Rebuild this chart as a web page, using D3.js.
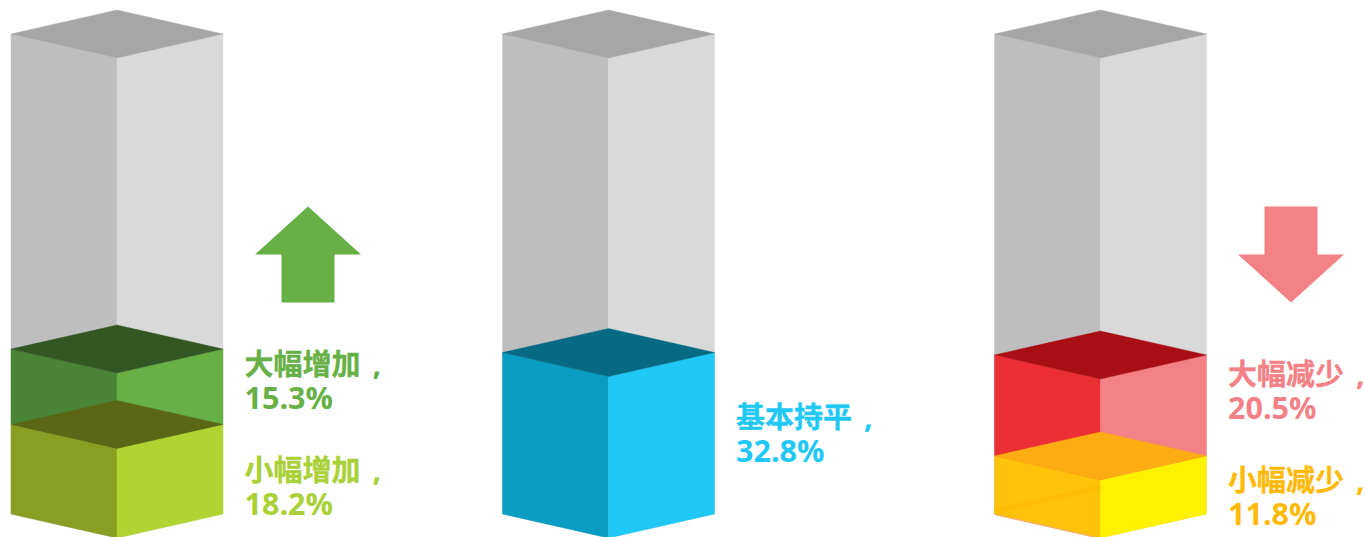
<!DOCTYPE html>
<html lang="zh">
<head>
<meta charset="utf-8">
<script src="https://d3js.org/d3.v7.min.js"></script>
<style>
html,body{margin:0;padding:0;background:#fff;overflow:hidden}
text{font-family:"Open Sans","Noto Sans CJK SC",sans-serif;font-weight:700;font-size:30.5px}
.cjk{font-family:"Noto Sans CJK SC",sans-serif;font-size:29px;stroke-width:.35px}
</style>
</head>
<body>
<svg id="chart" width="1365" height="537"></svg>
<script>
// Values are percentages of respondents, stacked from the base of each column.
const columnNames = ["增加", "持平", "减少"];
const columnLeftEdges = [11, 502.5, 994.5];
const segmentColumn = [0, 0, 1, 2, 2];
const segmentLabels = ["小幅增加", "大幅增加", "基本持平", "小幅减少", "大幅减少"];
const segmentValues = [18.2, 15.3, 32.8, 11.8, 20.5];
const segmentLeft  = ["#889f24", "#4a8537", "#0a9dc4", "#ffc20a", "#ec2f35"];
const segmentRight = ["#b1d432", "#66b046", "#1fc8f5", "#fff200", "#f48186"];
const segmentTop   = ["#5a6815", "#335723", "#076a85", "#fdac12", "#a90e14"];
const segmentText  = ["#a9d036", "#66b046", "#1fc8f5", "#ffba08", "#f48186"];
const labelBaselines = [481, 375, 428, 491, 385];
const arrowColors = ["#66b046", null, "#f48186"];

const columnWidth = 212, depth = 24, scaleMax = 97.5;
const svg = d3.select("#chart");
const y = d3.scaleLinear().domain([0, scaleMax]).range([514, 34]);
const path = d3.line();

// One box: left face, right face and top rhombus between two stack levels.
function box(g, left, v0, v1, colors) {
  const sx = d3.scaleLinear().domain([0, 1]).range([left, left + columnWidth]);
  const y0 = y(v0), y1 = y(v1);
  const faces = [
    [[sx(0), y1], [sx(.5), y1 + depth], [sx(.5), y0 + depth], [sx(0), y0]],
    [[sx(.5), y1 + depth], [sx(1), y1], [sx(1), y0], [sx(.5), y0 + depth]],
    [[sx(0), y1], [sx(.5), y1 - depth], [sx(1), y1], [sx(.5), y1 + depth]]
  ];
  g.selectAll(null).data(faces).join("path")
    .attr("d", d => path(d) + "Z")
    .attr("fill", (d, i) => colors[i])
    .attr("stroke", (d, i) => colors[i])
    .attr("stroke-width", .4);
}

columnNames.forEach((name, c) => {
  const g = svg.append("g").attr("class", "column").attr("aria-label", name);
  const left = columnLeftEdges[c];
  box(g, left, 0, scaleMax, ["#bebebe", "#d9d9d9", "#a6a6a6"]);

  // Work out each segment's range, then paint from the top of the stack down
  // so a lower segment's lid overlaps the faces of the one above it.
  let base = 0;
  const stack = [];
  segmentValues.forEach((v, i) => {
    if (segmentColumn[i] !== c) return;
    stack.push({ i, v0: base, v1: base + v });
    base += v;
  });
  stack.reverse().forEach(({ i, v0, v1 }) => {
    box(g, left, v0, v1, [segmentLeft[i], segmentRight[i], segmentTop[i]]);
  });

  // The decrease column shows its hidden rear floor edge through the yellow box.
  if (c === 2) {
    const sx = d3.scaleLinear().domain([0, 1]).range([left, left + columnWidth]);
    g.append("path")
      .attr("d", path([
        [sx(0), y(0) - 6], [sx(.5), y(0) - depth - 5],
        [sx(.5), y(0) - depth], [sx(0), y(0)]
      ]) + "Z")
      .attr("fill", "#fdb900").attr("opacity", .75);
    g.append("path")
      .attr("d", path([[sx(0), y(0) + 0.6], [sx(.5), y(0) + depth + 0.6]]))
      .attr("fill", "none").attr("stroke", "#f7945c").attr("stroke-width", .8);
  }
});

// Two-line labels beside each segment: name with a detached comma, then the value.
segmentValues.forEach((v, i) => {
  const lx = columnLeftEdges[segmentColumn[i]] + columnWidth + 21.5;
  const t = svg.append("text").attr("fill", segmentText[i]);
  t.append("tspan").attr("class", "cjk").attr("stroke", segmentText[i])
    .attr("x", lx).attr("y", labelBaselines[i]).text(segmentLabels[i]);
  t.append("tspan").attr("dx", 12).attr("y", labelBaselines[i]).text(",");
  t.append("tspan").attr("x", lx).attr("y", labelBaselines[i] + 34).text(v.toFixed(1) + "%");
});

// Direction arrows next to the increase and decrease columns.
const arrowOutline = [[0, -48], [53, 0], [26.5, 0], [26.5, 48], [-26.5, 48], [-26.5, 0], [-53, 0]];
const arrowCentres = [[308, 254.5], null, [1291, 254.5]];
arrowColors.forEach((color, c) => {
  if (!color) return;
  const flip = c === 2 ? -1 : 1;
  svg.append("path")
    .attr("d", path(arrowOutline.map(([a, b]) => [a, b * flip])) + "Z")
    .attr("transform", `translate(${arrowCentres[c]})`)
    .attr("fill", color);
});
</script>
</body>
</html>
